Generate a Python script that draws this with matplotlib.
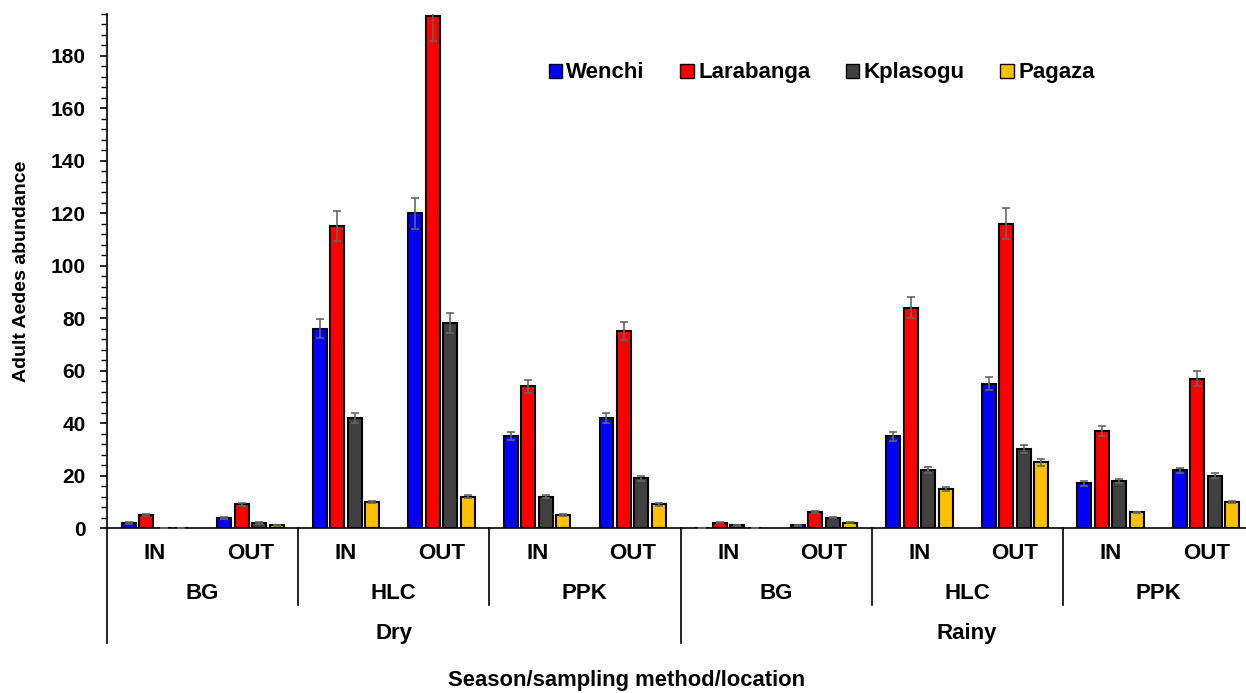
""" Adult Aedes abundance by season, sampling method and location. """

import numpy as np
import matplotlib
matplotlib.use('Agg')
import matplotlib.pyplot as plt
from matplotlib.patches import Patch

# Groups, left to right
seasons = ['Dry', 'Rainy']
methods = ['BG', 'HLC', 'PPK']
locations = ['IN', 'OUT']

sites = ['Wenchi', 'Larabanga', 'Kplasogu', 'Pagaza']
colors = ['#0000FF', '#FF0000', '#404040', '#FFC000']

# Mean counts per group (Dry BG IN, Dry BG OUT, Dry HLC IN, ... Rainy PPK OUT)
wenchi = [2, 4, 76, 120, 35, 42, 0, 1, 35, 55, 17, 22]
larabanga = [5, 9, 115, 195, 54, 75, 2, 6, 84, 116, 37, 57]
kplasogu = [0, 2, 42, 78, 12, 19, 1, 4, 22, 30, 18, 20]
pagaza = [0, 1, 10, 12, 5, 9, 0, 2, 15, 25, 6, 10]

# Standard errors
wenchi_err = [0.3, 0.4, 3.5, 6, 1.5, 2, 0, 0.2, 1.8, 2.5, 0.8, 1]
larabanga_err = [0.3, 0.5, 5.7, 9.5, 2.5, 3.5, 0.2, 0.4, 4, 6, 1.9, 2.8]
kplasogu_err = [0, 0.3, 2, 3.8, 0.5, 1, 0.2, 0.3, 1.2, 1.5, 0.8, 1]
pagaza_err = [0, 0.2, 0.5, 0.7, 0.3, 0.5, 0, 0.2, 0.8, 1.2, 0.3, 0.5]

series = [wenchi, larabanga, kplasogu, pagaza]
errors = [wenchi_err, larabanga_err, kplasogu_err, pagaza_err]

plt.rcParams['font.family'] = ['Liberation Sans', 'DejaVu Sans']
plt.rcParams['font.weight'] = 'bold'

fig = plt.figure(figsize=(12.46, 6.93), dpi=100)
ax = fig.add_axes([0.0859, 0.238, 0.9205, 0.742])

n = len(wenchi)
x = np.arange(n)
pitch = 0.183
width = 0.146
for i, (vals, errs) in enumerate(zip(series, errors)):
    ax.bar(x + (i - 1.5) * pitch, vals, width, color=colors[i],
           edgecolor='black', linewidth=1.5, zorder=2)
    ax.errorbar(x + (i - 1.5) * pitch, vals, yerr=errs, fmt='none',
                ecolor='#666666', elinewidth=1.2, capsize=3, capthick=1.2,
                zorder=3)

ax.set_xlim(-0.5, n - 0.5)
ax.set_ylim(0, 196)
ax.set_yticks(np.arange(0, 181, 20))
ax.set_yticks(np.arange(0, 197, 4), minor=True)
ax.tick_params(axis='y', which='major', length=5, width=1.2, direction='out',
               labelsize=15, pad=10.5)
ax.tick_params(axis='y', which='minor', length=4, width=1.0, direction='out')
ax.set_xticks([])
for s in ['top', 'right']:
    ax.spines[s].set_visible(False)
ax.spines['left'].set_linewidth(1.2)
ax.spines['bottom'].set_linewidth(1.2)
for lab in ax.get_yticklabels():
    lab.set_fontweight('bold')

# Hierarchical category labels below the axis
tr = ax.get_xaxis_transform()
for k in range(n):
    ax.text(k, -0.049, locations[k % 2], transform=tr, ha='center',
            va='center', fontsize=16, fontweight='bold')
for k in range(n // 2):
    ax.text(2 * k + 0.5, -0.127, methods[k % 3], transform=tr, ha='center',
            va='center', fontsize=16, fontweight='bold')
    if k % 3 != 0:
        ax.plot([2 * k - 0.5] * 2, [0, -0.150], transform=tr, color='black',
                lw=1.2, clip_on=False)
for k in range(len(seasons)):
    ax.text(6 * k + 2.5, -0.205, seasons[k], transform=tr, ha='center',
            va='center', fontsize=16, fontweight='bold')
    ax.plot([6 * k - 0.5] * 2, [0, -0.224], transform=tr, color='black',
            lw=1.2, clip_on=False)

ax.set_ylabel('Adult Aedes abundance', fontsize=14, fontweight='bold',
              va='center')
ax.yaxis.set_label_coords(-0.0742, 0.5)
ax.set_xlabel('Season/sampling method/location', fontsize=15.8,
              fontweight='bold', va='center')
ax.xaxis.set_label_coords(0.4534, -0.296)

handles = [Patch(facecolor=c, edgecolor='black', linewidth=1.0)
           for c in colors]
leg = ax.legend(handles, sites, ncol=4, loc='center',
                bbox_to_anchor=(0.623, 0.885), frameon=False,
                handlelength=0.6, handleheight=0.6, handletextpad=0.2,
                columnspacing=1.6, prop={'size': 16, 'weight': 'bold'})

fig.savefig('out.png', dpi=100)
